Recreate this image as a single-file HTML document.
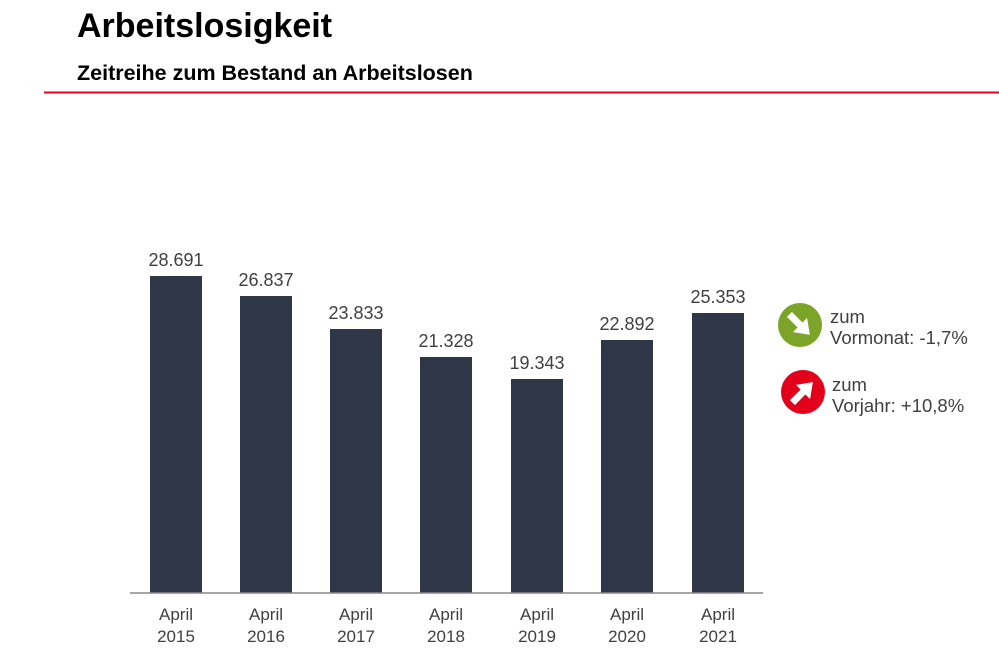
<!DOCTYPE html>
<html><head><meta charset="utf-8"><style>
html,body{margin:0;padding:0;background:#fff;}
svg{display:block;}
</style></head><body>
<svg width="999" height="667" viewBox="0 0 999 667" xmlns="http://www.w3.org/2000/svg" font-family="Liberation Sans, Arial, sans-serif">
<rect width="999" height="667" fill="#fff"/>
<text x="77" y="37" font-size="34" font-weight="bold" fill="#000">Arbeitslosigkeit</text>
<text x="77" y="80" font-size="21.5" font-weight="bold" fill="#000">Zeitreihe zum Bestand an Arbeitslosen</text>
<line x1="44" y1="92.5" x2="999" y2="92.5" stroke="#e2001a" stroke-width="2"/>
<g fill="#2e3648">
<rect x="150" y="276" width="52" height="317"/>
<rect x="240" y="296" width="52" height="297"/>
<rect x="330" y="329" width="52" height="264"/>
<rect x="420" y="357" width="52" height="236"/>
<rect x="511" y="379" width="52" height="214"/>
<rect x="601" y="340" width="52" height="253"/>
<rect x="692" y="313" width="52" height="280"/>
</g>
<line x1="130" y1="593" x2="763" y2="593" stroke="#888" stroke-width="1.5"/>
<g font-size="18" fill="#404040" text-anchor="middle">
<text x="176" y="266">28.691</text>
<text x="266" y="286">26.837</text>
<text x="356" y="319">23.833</text>
<text x="446" y="347">21.328</text>
<text x="537" y="369">19.343</text>
<text x="627" y="330">22.892</text>
<text x="718" y="303">25.353</text>
</g>
<g font-size="17" fill="#404040" text-anchor="middle">
<text x="176" y="620">April</text><text x="176" y="642">2015</text>
<text x="266" y="620">April</text><text x="266" y="642">2016</text>
<text x="356" y="620">April</text><text x="356" y="642">2017</text>
<text x="446" y="620">April</text><text x="446" y="642">2018</text>
<text x="537" y="620">April</text><text x="537" y="642">2019</text>
<text x="627" y="620">April</text><text x="627" y="642">2020</text>
<text x="718" y="620">April</text><text x="718" y="642">2021</text>
</g>
<circle cx="800" cy="325" r="22" fill="#7ba428"/>
<g transform="translate(800,325) rotate(-45)" fill="#fff">
<rect x="-3.5" y="-15" width="7" height="16"/>
<polygon points="-10,0 10,0 0,14"/>
</g>
<circle cx="803" cy="392" r="22" fill="#e2001a"/>
<g transform="translate(803,392) rotate(45)" fill="#fff">
<rect x="-3.5" y="-1" width="7" height="16"/>
<polygon points="-10,0 10,0 0,-14"/>
</g>
<g font-size="18.5" fill="#404040">
<text x="830" y="323">zum</text>
<text x="830" y="344">Vormonat: -1,7%</text>
<text x="832" y="391">zum</text>
<text x="832" y="412">Vorjahr: +10,8%</text>
</g>
</svg>
</body></html>
